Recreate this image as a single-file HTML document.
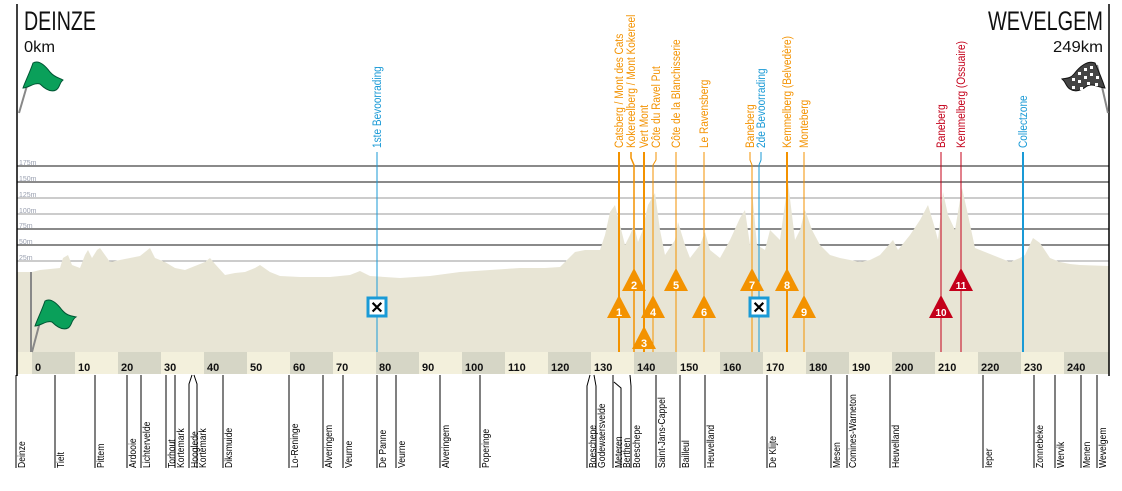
<!DOCTYPE html>
<html><head><meta charset="utf-8"><style>
html,body{margin:0;padding:0;background:#fff;}
svg{display:block;font-family:"Liberation Sans",sans-serif;}
</style></head><body>
<svg width="1122" height="491" viewBox="0 0 1122 491" xmlns="http://www.w3.org/2000/svg">
<g>
<line x1="17" y1="166" x2="1109" y2="166" stroke="#8a8a8a" stroke-width="2"/>
<line x1="17" y1="182" x2="1109" y2="182" stroke="#8a8a8a" stroke-width="2"/>
<line x1="17" y1="198" x2="1109" y2="198" stroke="#999"/>
<line x1="17" y1="214" x2="1109" y2="214" stroke="#999"/>
<line x1="17" y1="229" x2="1109" y2="229" stroke="#8a8a8a" stroke-width="2"/>
<line x1="17" y1="245" x2="1109" y2="245" stroke="#8a8a8a" stroke-width="2"/>
<line x1="17" y1="261" x2="1109" y2="261" stroke="#999"/>
</g>
<g font-size="7" fill="#9aa0b0">
<text x="19" y="165">175m</text><text x="19" y="181">150m</text><text x="19" y="197">125m</text><text x="19" y="213">100m</text><text x="19" y="228">75m</text><text x="19" y="244">50m</text><text x="19" y="260">25m</text>
</g>
<polygon fill="#e8e5d5" points="17,352 17,272 32,272 40,270 60,268 63,258 68,255 72,265 80,268 85,255 88,250 92,258 97,250 100,248 105,255 110,262 120,260 130,258 140,256 145,252 150,248 155,258 165,262 175,268 185,270 195,266 205,262 210,258 215,264 225,275 235,273 245,272 255,268 260,265 270,272 280,276 300,277 330,277 350,275 360,271 370,276 400,278 430,276 460,272 490,270 520,268 545,268 560,267 575,252 585,250 600,250 605,235 610,212 615,205 620,225 625,245 630,235 634,225 638,242 642,232 648,205 655,193 660,230 665,255 675,240 678,222 685,245 690,258 700,245 705,232 710,250 720,258 730,240 740,218 745,210 750,245 752,190 757,245 765,250 770,230 780,240 788,182 795,240 800,230 805,210 812,230 820,245 830,255 840,258 850,260 860,262 870,260 880,255 893,240 898,250 910,235 920,220 928,205 934,225 938,240 943,192 948,215 955,230 962,188 968,215 975,248 985,252 1000,258 1010,262 1020,258 1025,255 1033,238 1040,243 1050,258 1060,262 1070,264 1080,265 1109,266 1109,352"/>
<rect x="17" y="352" width="1092" height="22" fill="#f3f0dc"/>
<g fill="#d6d6c6">
<rect x="32" y="352" width="43" height="22"/><rect x="118" y="352" width="43" height="22"/><rect x="204" y="352" width="43" height="22"/><rect x="290" y="352" width="43" height="22"/><rect x="376" y="352" width="43" height="22"/><rect x="462" y="352" width="43" height="22"/><rect x="548" y="352" width="43" height="22"/><rect x="634" y="352" width="43" height="22"/><rect x="720" y="352" width="43" height="22"/><rect x="806" y="352" width="43" height="22"/><rect x="892" y="352" width="43" height="22"/><rect x="978" y="352" width="43" height="22"/><rect x="1064" y="352" width="45" height="22"/>
</g>
<g font-size="11" font-weight="bold" fill="#111">
<text x="35" y="371">0</text><text x="78" y="371">10</text><text x="121" y="371">20</text><text x="164" y="371">30</text><text x="207" y="371">40</text><text x="250" y="371">50</text><text x="293" y="371">60</text><text x="336" y="371">70</text><text x="379" y="371">80</text><text x="422" y="371">90</text><text x="465" y="371">100</text><text x="508" y="371">110</text><text x="551" y="371">120</text><text x="594" y="371">130</text><text x="637" y="371">140</text><text x="680" y="371">150</text><text x="723" y="371">160</text><text x="766" y="371">170</text><text x="809" y="371">180</text><text x="852" y="371">190</text><text x="895" y="371">200</text><text x="938" y="371">210</text><text x="981" y="371">220</text><text x="1024" y="371">230</text><text x="1067" y="371">240</text>
</g>
<line x1="17" y1="4" x2="17" y2="376" stroke="#000" stroke-width="1.5"/>
<line x1="1109" y1="4" x2="1109" y2="376" stroke="#000" stroke-width="1.5"/>
<text x="24" y="30" font-size="27" fill="#111" textLength="72" lengthAdjust="spacingAndGlyphs">DEINZE</text>
<text x="24" y="52" font-size="16" fill="#111" textLength="31" lengthAdjust="spacingAndGlyphs">0km</text>
<text x="988" y="30" font-size="27" fill="#111" textLength="115" lengthAdjust="spacingAndGlyphs">WEVELGEM</text>
<text x="1053" y="52" font-size="16" fill="#111" textLength="50" lengthAdjust="spacingAndGlyphs">249km</text>
<g>
<line x1="19" y1="113" x2="33" y2="65" stroke="#888" stroke-width="2"/>
<path d="M33,63 C38,60 44,64 50,72 C55,78 60,78 63,80 C59,83 60,88 56,90 C50,93 44,88 40,84 C35,82 28,88 23,88 C25,82 30,72 33,63Z" fill="#0aa05a" stroke="#053" stroke-width="1"/>
</g>
<g>
<line x1="31" y1="352" x2="31" y2="272" stroke="#888" stroke-width="2"/>
<line x1="32" y1="352" x2="45" y2="303" stroke="#888" stroke-width="2"/>
<path d="M45,301 C50,298 56,302 62,310 C67,316 72,316 76,317 C71,320 72,326 68,328 C62,331 56,326 52,322 C47,320 40,326 35,326 C37,320 42,310 45,301Z" fill="#0aa05a" stroke="#053" stroke-width="1"/>
</g>
<g>
<line x1="1097" y1="65" x2="1108" y2="113" stroke="#888" stroke-width="2"/>
<path d="M1095,63 C1088,60 1080,66 1074,74 C1070,79 1066,78 1062,79 C1066,82 1066,87 1070,89 C1076,93 1082,90 1087,86 C1093,83 1100,88 1105,88 C1103,82 1099,72 1095,63Z" fill="#444" stroke="#111" stroke-width="1"/>
<g fill="#fff"><rect x="1072" y="78" width="3" height="3"/><rect x="1078" y="72" width="3" height="3"/><rect x="1084" y="68" width="3" height="3"/><rect x="1090" y="66" width="3" height="3"/><rect x="1078" y="80" width="3" height="3"/><rect x="1084" y="76" width="3" height="3"/><rect x="1090" y="73" width="3" height="3"/><rect x="1096" y="76" width="3" height="3"/><rect x="1072" y="86" width="3" height="3"/><rect x="1080" y="87" width="3" height="3"/><rect x="1087" y="82" width="3" height="3"/><rect x="1095" y="83" width="3" height="3"/></g>
</g>
<line x1="377" y1="152" x2="377" y2="352" stroke="#1a9ad6" stroke-width="1"/>
<text transform="translate(381,148) rotate(-90) scale(0.84,1)" font-size="12" fill="#1a9ad6">1ste Bevoorrading</text>
<polyline points="761,152 761,160 759,165 759,352" fill="none" stroke="#1a9ad6" stroke-width="1"/>
<text transform="translate(765,148) rotate(-90) scale(0.84,1)" font-size="12" fill="#1a9ad6">2de Bevoorrading</text>
<line x1="1023" y1="152" x2="1023" y2="352" stroke="#1a9ad6" stroke-width="2"/>
<text transform="translate(1027,148) rotate(-90) scale(0.84,1)" font-size="12" fill="#1a9ad6">Collectzone</text>
<g stroke="#f39200" fill="none">
<line x1="619" y1="152" x2="619" y2="352" stroke-width="2"/>
<polyline points="631,152 631,158 634,165 634,352" stroke-width="1.5"/>
<line x1="644" y1="152" x2="644" y2="352" stroke-width="2"/>
<polyline points="656,152 656,160 653,165 653,352" stroke-width="1"/>
<line x1="676" y1="152" x2="676" y2="352" stroke-width="1"/>
<line x1="704" y1="152" x2="704" y2="352" stroke-width="1"/>
<polyline points="750,152 750,160 752,165 752,352" stroke-width="1"/>
<line x1="787" y1="152" x2="787" y2="352" stroke-width="2"/>
<line x1="804" y1="152" x2="804" y2="352" stroke-width="1"/>
</g>
<g font-size="12" fill="#f39200">
<text transform="translate(623,148) rotate(-90) scale(0.84,1)">Catsberg / Mont des Cats</text>
<text transform="translate(635,148) rotate(-90) scale(0.84,1)">Kokereelberg / Mont Kokereel</text>
<text transform="translate(648,148) rotate(-90) scale(0.84,1)">Vert Mont</text>
<text transform="translate(660,148) rotate(-90) scale(0.84,1)">Côte du Ravel Put</text>
<text transform="translate(680,148) rotate(-90) scale(0.84,1)">Côte de la Blanchisserie</text>
<text transform="translate(708,148) rotate(-90) scale(0.84,1)">Le Ravensberg</text>
<text transform="translate(754,148) rotate(-90) scale(0.84,1)">Baneberg</text>
<text transform="translate(791,148) rotate(-90) scale(0.84,1)">Kemmelberg (Belvedère)</text>
<text transform="translate(808,148) rotate(-90) scale(0.84,1)">Monteberg</text>
</g>
<line x1="941" y1="152" x2="941" y2="352" stroke="#c4001a" stroke-width="1"/>
<line x1="961" y1="152" x2="961" y2="352" stroke="#c4001a" stroke-width="1"/>
<text transform="translate(945,148) rotate(-90) scale(0.84,1)" font-size="12" fill="#c4001a">Baneberg</text>
<text transform="translate(965,148) rotate(-90) scale(0.84,1)" font-size="12" fill="#c4001a">Kemmelberg (Ossuaire)</text>
<g font-size="11" font-weight="bold" fill="#fff" text-anchor="middle">
<g fill="#f39200"><path d="M619,295 L631,318 L607,318Z"/><path d="M634,268 L646,291 L622,291Z"/><path d="M644,326 L656,349 L632,349Z"/><path d="M653,295 L665,318 L641,318Z"/><path d="M676,268 L688,291 L664,291Z"/><path d="M704,295 L716,318 L692,318Z"/><path d="M752,268 L764,291 L740,291Z"/><path d="M787,268 L799,291 L775,291Z"/><path d="M804,295 L816,318 L792,318Z"/></g>
<g fill="#c4001a"><path d="M941,295 L953,318 L929,318Z"/><path d="M961,268 L973,291 L949,291Z"/></g>
<text x="619" y="316">1</text><text x="634" y="289">2</text><text x="644" y="347">3</text><text x="653" y="316">4</text><text x="676" y="289">5</text><text x="704" y="316">6</text><text x="752" y="289">7</text><text x="787" y="289">8</text><text x="804" y="316">9</text><text x="941" y="316" font-size="10">10</text><text x="961" y="289" font-size="10">11</text>
</g>
<g>
<rect x="368" y="298" width="18" height="18" fill="#fff" stroke="#1a9ad6" stroke-width="3"/>
<text x="377" y="313" font-size="16" font-weight="bold" text-anchor="middle" fill="#000">✕</text>
<rect x="750" y="298" width="18" height="18" fill="#fff" stroke="#1a9ad6" stroke-width="3"/>
<text x="759" y="313" font-size="16" font-weight="bold" text-anchor="middle" fill="#000">✕</text>
</g>
<g stroke="#000" stroke-width="1">
<line x1="16" y1="375" x2="16" y2="468"/><line x1="55" y1="375" x2="55" y2="468"/><line x1="95" y1="375" x2="95" y2="468"/><line x1="127" y1="375" x2="127" y2="468"/><line x1="141" y1="375" x2="141" y2="468"/><line x1="166" y1="375" x2="166" y2="468"/><line x1="175" y1="375" x2="175" y2="468"/>
<polyline points="192,375 189,384 189,468" fill="none"/><polyline points="194,375 197,384 197,468" fill="none"/>
<line x1="223" y1="375" x2="223" y2="468"/><line x1="289" y1="375" x2="289" y2="468"/><line x1="323" y1="375" x2="323" y2="468"/><line x1="343" y1="375" x2="343" y2="468"/><line x1="377" y1="375" x2="377" y2="468"/><line x1="396" y1="375" x2="396" y2="468"/><line x1="440" y1="375" x2="440" y2="468"/><line x1="480" y1="375" x2="480" y2="468"/>
<polyline points="590,375 587,386 587,468" fill="none"/><polyline points="594,375 596,386 596,468" fill="none"/>
<line x1="613" y1="375" x2="613" y2="468"/><polyline points="614,382 621,388 621,468" fill="none"/><polyline points="630,375 631,386 631,468" fill="none"/>
<line x1="656" y1="375" x2="656" y2="468"/><line x1="680" y1="375" x2="680" y2="468"/><line x1="705" y1="375" x2="705" y2="468"/><line x1="767" y1="375" x2="767" y2="468"/><line x1="831" y1="375" x2="831" y2="468"/><line x1="847" y1="375" x2="847" y2="468"/><line x1="890" y1="375" x2="890" y2="468"/><line x1="983" y1="375" x2="983" y2="468"/><line x1="1034" y1="375" x2="1034" y2="468"/><line x1="1055" y1="375" x2="1055" y2="468"/><line x1="1081" y1="375" x2="1081" y2="468"/><line x1="1097" y1="375" x2="1097" y2="468"/>
</g>
<g font-size="10.5" fill="#000">
<text transform="translate(25,468) rotate(-90) scale(0.82,1)">Deinze</text>
<text transform="translate(64,468) rotate(-90) scale(0.82,1)">Tielt</text>
<text transform="translate(104,468) rotate(-90) scale(0.82,1)">Pittem</text>
<text transform="translate(136,468) rotate(-90) scale(0.82,1)">Ardooie</text>
<text transform="translate(150,468) rotate(-90) scale(0.82,1)">Lichtervelde</text>
<text transform="translate(175,468) rotate(-90) scale(0.82,1)">Torhout</text>
<text transform="translate(184,468) rotate(-90) scale(0.82,1)">Kortemark</text>
<text transform="translate(198,468) rotate(-90) scale(0.82,1)">Hooglede</text>
<text transform="translate(206,468) rotate(-90) scale(0.82,1)">Kortemark</text>
<text transform="translate(232,468) rotate(-90) scale(0.82,1)">Diksmuide</text>
<text transform="translate(298,468) rotate(-90) scale(0.82,1)">Lo-Reninge</text>
<text transform="translate(332,468) rotate(-90) scale(0.82,1)">Alveringem</text>
<text transform="translate(352,468) rotate(-90) scale(0.82,1)">Veurne</text>
<text transform="translate(386,468) rotate(-90) scale(0.82,1)">De Panne</text>
<text transform="translate(405,468) rotate(-90) scale(0.82,1)">Veurne</text>
<text transform="translate(449,468) rotate(-90) scale(0.82,1)">Alveringem</text>
<text transform="translate(489,468) rotate(-90) scale(0.82,1)">Poperinge</text>
<text transform="translate(596,468) rotate(-90) scale(0.82,1)">Boeschepe</text>
<text transform="translate(605,468) rotate(-90) scale(0.82,1)">Godewaersvelde</text>
<text transform="translate(622,468) rotate(-90) scale(0.82,1)">Meteren</text>
<text transform="translate(630,468) rotate(-90) scale(0.82,1)">Berthen</text>
<text transform="translate(640,468) rotate(-90) scale(0.82,1)">Boeschepe</text>
<text transform="translate(665,468) rotate(-90) scale(0.82,1)">Saint-Jans-Cappel</text>
<text transform="translate(689,468) rotate(-90) scale(0.82,1)">Bailleul</text>
<text transform="translate(714,468) rotate(-90) scale(0.82,1)">Heuvelland</text>
<text transform="translate(776,468) rotate(-90) scale(0.82,1)">De Klijte</text>
<text transform="translate(840,468) rotate(-90) scale(0.82,1)">Mesen</text>
<text transform="translate(856,468) rotate(-90) scale(0.82,1)">Comines-Warneton</text>
<text transform="translate(899,468) rotate(-90) scale(0.82,1)">Heuvelland</text>
<text transform="translate(992,468) rotate(-90) scale(0.82,1)">Ieper</text>
<text transform="translate(1043,468) rotate(-90) scale(0.82,1)">Zonnebeke</text>
<text transform="translate(1064,468) rotate(-90) scale(0.82,1)">Wervik</text>
<text transform="translate(1090,468) rotate(-90) scale(0.82,1)">Menen</text>
<text transform="translate(1106,468) rotate(-90) scale(0.82,1)">Wevelgem</text>
</g>
</svg>
</body></html>
